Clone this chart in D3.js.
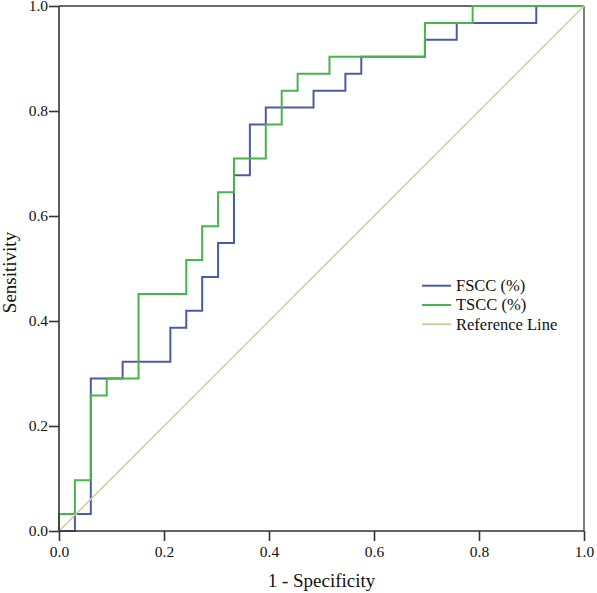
<!DOCTYPE html>
<html>
<head>
<meta charset="utf-8">
<script src="https://cdn.jsdelivr.net/npm/d3@7/dist/d3.min.js"></script>
<style>
  html, body { margin: 0; padding: 0; background: #fff; }
  svg { display: block; }
  text { font-family: "Liberation Serif", "Times New Roman", serif; fill: #111; }
</style>
</head>
<body>
<svg id="chart" width="597" height="593"></svg>
<script>
// ROC coordinate points (1 - specificity, sensitivity)
const fsccFPR = [0, 0.0303, 0.0606, 0.1212, 0.2121, 0.2424, 0.2727, 0.3030, 0.3333, 0.3636, 0.3939, 0.4848, 0.5455, 0.5758, 0.6970, 0.7576, 0.9091, 1];
const fsccTPR = [0, 0.0323, 0.2903, 0.3226, 0.3871, 0.4194, 0.4839, 0.5484, 0.6774, 0.7742, 0.8065, 0.8387, 0.8710, 0.9032, 0.9355, 0.9677, 1, 1];

const tsccFPR = [0, 0, 0.0303, 0.0606, 0.0909, 0.1515, 0.2424, 0.2727, 0.3030, 0.3333, 0.3939, 0.4242, 0.4545, 0.5152, 0.6970, 0.7879, 1];
const tsccTPR = [0, 0.0323, 0.0968, 0.2581, 0.2903, 0.4516, 0.5161, 0.5806, 0.6452, 0.7097, 0.7742, 0.8387, 0.8710, 0.9032, 0.9677, 1, 1];

const refX = [0, 1];
const refY = [0, 1];

const seriesNames = ["FSCC (%)", "TSCC (%)", "Reference Line"];
const seriesColors = ["#4a5ba9", "#45b64c", "#d3cb9f"];
const tickValues = [0, 0.2, 0.4, 0.6, 0.8, 1.0];
const xTitle = "1 - Specificity";
const yTitle = "Sensitivity";

const svg = d3.select("#chart");
const L = 59, R = 584, T = 6, B = 531;

const x = d3.scaleLinear().domain([0, 1]).range([L, R]);
const y = d3.scaleLinear().domain([0, 1]).range([B, T]);

// frame (top & right)
svg.append("line").attr("x1", L).attr("x2", R).attr("y1", T).attr("y2", T)
  .attr("stroke", "#3a3a3a").attr("stroke-width", 1.5);
svg.append("line").attr("x1", R).attr("x2", R).attr("y1", T).attr("y2", B)
  .attr("stroke", "#555").attr("stroke-width", 1.5);

// curves
const step = d3.line().x(d => x(d[0])).y(d => y(d[1])).curve(d3.curveStepAfter);
const lin = d3.line().x(d => x(d[0])).y(d => y(d[1]));

svg.append("path").datum(fsccFPR.map((v, i) => [v, fsccTPR[i]]))
  .attr("d", step).attr("fill", "none").attr("stroke", seriesColors[0]).attr("stroke-width", 2);
svg.append("path").datum(tsccFPR.map((v, i) => [v, tsccTPR[i]]))
  .attr("d", step).attr("fill", "none").attr("stroke", seriesColors[1]).attr("stroke-width", 2);
svg.append("path").datum(refX.map((v, i) => [v, refY[i]]))
  .attr("d", lin).attr("fill", "none").attr("stroke", seriesColors[2]).attr("stroke-width", 1.5);

// axes
const fmt = d3.format(".1f");
const xAxis = svg.append("g").attr("transform", `translate(0,${B})`)
  .call(d3.axisBottom(x).tickValues(tickValues).tickFormat(fmt).tickSize(10).tickPadding(5).tickSizeOuter(0));
const yAxis = svg.append("g").attr("transform", `translate(${L},0)`)
  .call(d3.axisLeft(y).tickValues(tickValues).tickFormat(fmt).tickSize(10).tickPadding(1).tickSizeOuter(0));
[xAxis, yAxis].forEach(g => {
  g.select(".domain").attr("stroke", "#333").attr("stroke-width", 1.6);
  g.selectAll(".tick line").attr("stroke", "#333").attr("stroke-width", 1.6);
  g.selectAll(".tick text").attr("font-family", "Liberation Serif, serif").attr("font-size", 15.5).attr("fill", "#111");
});
// extend domain lines to the corner
xAxis.select(".domain").attr("d", `M${L},0H${R}`);
yAxis.select(".domain").attr("d", `M0,${B}V${T}`);

// axis titles
svg.append("text").attr("x", (L + R) / 2).attr("y", 587).attr("text-anchor", "middle")
  .attr("font-size", 19).text(xTitle);
svg.append("text").attr("transform", `translate(16,${(T + B) / 2 + 4}) rotate(-90)`)
  .attr("text-anchor", "middle").attr("font-size", 19).text(yTitle);

// legend
const lg = svg.append("g");
seriesNames.forEach((name, i) => {
  const yy = 285.7 + i * 19.3;
  lg.append("line").attr("x1", 422).attr("x2", 451).attr("y1", yy).attr("y2", yy)
    .attr("stroke", seriesColors[i]).attr("stroke-width", 2);
  lg.append("text").attr("x", 456).attr("y", yy).attr("dy", "0.33em")
    .attr("font-size", 16.5).text(name);
});
</script>
</body>
</html>
